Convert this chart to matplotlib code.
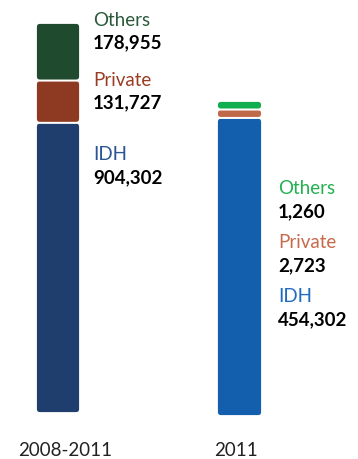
import numpy as np
import matplotlib
matplotlib.use("Agg")
import matplotlib.pyplot as plt
from matplotlib.patches import FancyBboxPatch

periods = ["2008-2011", "2011"]
segments = ["IDH", "Private", "Others"]
vals_0811 = [904302, 131727, 178955]
vals_2011 = [454302, 2723, 1260]

cols_0811 = ["#1f3e6e", "#8e3a22", "#1f4a2e"]
txt_0811 = ["#2b5594", "#9a3b22", "#2a5a3a"]
cols_2011 = ["#135fad", "#c0684a", "#0fae4e"]
txt_2011 = ["#1f6bbf", "#c8694a", "#22b050"]

plt.rcParams['font.family'] = ['Lato', 'DejaVu Sans']

W, H = 358, 459
fig = plt.figure(figsize=(W / 100, H / 100), dpi=100)


def stacked(rect, vals, cols, floor=0.0):
    ax = fig.add_axes(rect)
    vals = np.array(vals, dtype=float)
    # tiny segments get a minimum visual height so they stay visible
    shown = np.maximum(vals, floor * vals.sum())
    total = shown.sum()
    ax.set_xlim(-0.5, 0.5)
    ax.set_ylim(0, total)
    ax.axis("off")
    px_w = rect[2] * W
    px_h = rect[3] * H
    aspect = (total / px_h) / (1 / px_w)
    r = 4 / px_w
    bottom = 0
    for v, c in zip(shown, cols):
        p = FancyBboxPatch((-0.5, bottom), 1, v,
                           boxstyle=f"round,pad=0,rounding_size={r}",
                           mutation_aspect=aspect, fc=c, ec="white", lw=1.3)
        ax.add_patch(p)
        bottom += v
    return ax


ax1 = stacked([36 / W, (H - 413) / H, 44 / W, 390 / H], vals_0811, cols_0811)
ax2 = stacked([217 / W, (H - 416) / H, 45 / W, 315 / H], vals_2011, cols_2011, floor=0.028)

def fy(y):
    return 1 - y / H

fs = 13.5
lab1 = {"Others": 20, "Private": 80, "IDH": 155}
for name, v, c in zip(segments, vals_0811, txt_0811):
    y = lab1[name]
    fig.text(93 / W, fy(y), name, color=c, fontsize=fs, va="center", ha="left")
    fig.text(93 / W, fy(y + 23), f"{v:,}", color="black", fontsize=fs,
             fontweight="bold", va="center", ha="left")

lab2 = {"Others": 189, "Private": 243, "IDH": 297}
for name, v, c in zip(segments, vals_2011, txt_2011):
    y = lab2[name]
    fig.text(278 / W, fy(y), name, color=c, fontsize=fs, va="center", ha="left")
    fig.text(278 / W, fy(y + 23), f"{v:,}", color="black", fontsize=fs,
             fontweight="bold", va="center", ha="left")

for x, p in zip([65, 236], periods):
    fig.text(x / W, fy(450), p, color="#222222", fontsize=fs, ha="center", va="center")

fig.savefig("out.png", dpi=100)
